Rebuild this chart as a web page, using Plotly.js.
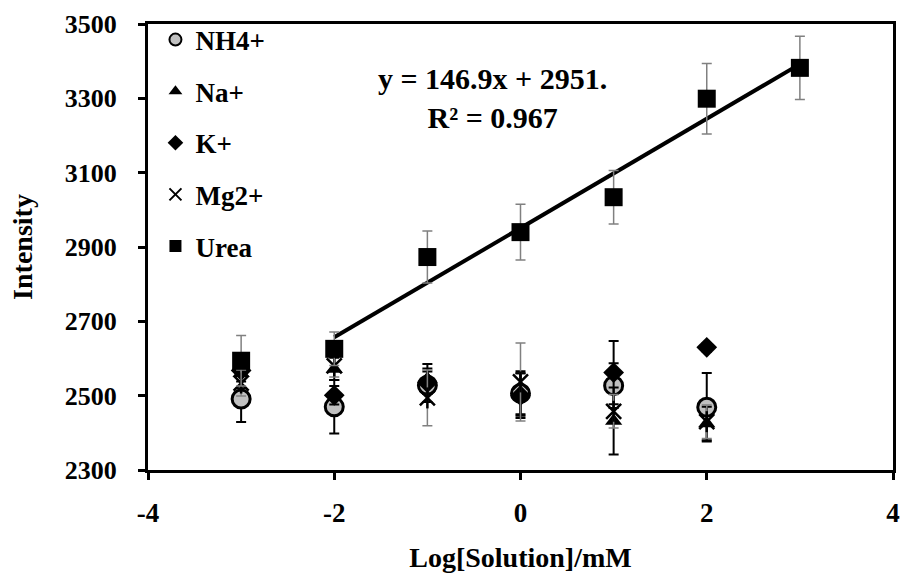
<!DOCTYPE html>
<html>
<head>
<meta charset="utf-8">
<script src="https://cdn.plot.ly/plotly-3.0.1.min.js"></script>
<style>html,body{margin:0;padding:0;background:#fff}#chart{width:902px;height:574px}</style>
</head>
<body>
<div id="chart"></div>
<script>
// ---- data ----
const xIons = [-3, -2, -1, 0, 1, 2];
const xUrea = [-3, -2, -1, 0, 1, 2, 3];

const nh4  = [2491, 2470, 2528, 2506, 2527, 2469];
const nh4Err = [62, 72, 45, 60, 60, 92];

const na   = [2560, 2572, 2545, 2505, 2432, 2425];
const naErr  = [40, 30, 40, 55, 90, 45];

const k    = [2568, 2501, 2535, 2500, 2562, 2630];
const kErr   = [30, 25, 30, 60, 85, 12];

const mg   = [2534, 2580, 2494, 2537, 2458, 2430];
const mgErr  = [35, 30, 75, 105, 45, 45];

const urea = [2594, 2626, 2873, 2940, 3034, 3299, 3382];
const ureaErr = [68, 45, 70, 75, 72, 95, 85];

// linear trendline shown in the chart (y = 146.9x + 2951), over x = -2 .. 3
const trendX = [-2, 3];
const trendY = [2657, 3392];

const legendNames = ['NH4+', 'Na+', 'K+', 'Mg2+', 'Urea'];
const eqText = 'y = 146.9x + 2951.';
const r2Text = 'R² = 0.967';

// ---- chart ----
const FONT = 'Liberation Serif, Times New Roman, serif';
function eb(arr, color, th) {
  return {type: 'data', array: arr, visible: true, color: color, thickness: th, width: 5};
}
const traces = [
  {x: xIons, y: nh4, name: '<b>' + legendNames[0] + '</b>', type: 'scatter', mode: 'markers', legendgroup: 'a',
   marker: {symbol: 'circle', size: 18, color: '#c0c0c0', line: {color: '#000', width: 3}},
   error_y: eb(nh4Err, '#000', 2)},
  {x: xIons, y: na, name: '<b>' + legendNames[1] + '</b>', type: 'scatter', mode: 'markers', legendgroup: 'b',
   marker: {symbol: 'triangle-up', size: 15, color: '#000'},
   error_y: eb(naErr, '#000', 2)},
  {x: xIons, y: k, name: '<b>' + legendNames[2] + '</b>', type: 'scatter', mode: 'markers', legendgroup: 'c',
   marker: {symbol: 'diamond', size: 16, color: '#000'},
   error_y: eb(kErr, '#000', 2)},
  {x: xIons, y: mg, name: '<b>' + legendNames[3] + '</b>', type: 'scatter', mode: 'markers', legendgroup: 'd',
   marker: {symbol: 'x-thin-open', size: 15, color: '#000', line: {color: '#000', width: 2.5}},
   error_y: eb(mgErr, '#808080', 1.5)},
  {x: xIons, y: mg, name: 'mgv', type: 'scatter', mode: 'markers', legendgroup: 'd', showlegend: false,
   marker: {symbol: 'line-ns-open', size: 15, color: '#000', line: {color: '#000', width: 2.5}}},
  {x: trendX, y: trendY, type: 'scatter', mode: 'lines', showlegend: false,
   line: {color: '#000', width: 4}},
  {x: xUrea, y: urea, name: '<b>' + legendNames[4] + '</b>', type: 'scatter', mode: 'markers', legendgroup: 'e',
   marker: {symbol: 'square', size: 18, color: '#000'},
   error_y: eb(ureaErr, '#808080', 1.5)}
];

const layout = {
  width: 902, height: 574,
  margin: {l: 148, r: 9, t: 24, b: 104},
  paper_bgcolor: '#fff', plot_bgcolor: '#fff',
  font: {family: FONT, color: '#000', size: 26},
  showlegend: true,
  legend: {x: 0.01, y: 1.019, xanchor: 'left', yanchor: 'top', bgcolor: 'rgba(0,0,0,0)',
           font: {family: FONT, size: 27, color: '#000'}, traceorder: 'grouped', tracegroupgap: 13.5,
           itemsizing: 'constant', itemwidth: 30},
  xaxis: {range: [-4, 4], tickvals: [-4, -2, 0, 2, 4], ticktext: ['-4', '-2', '0', '2', '4'],
          showgrid: false, zeroline: false, showline: true, linewidth: 3, linecolor: '#000', mirror: true,
          ticks: 'outside', ticklen: 7, tickwidth: 3, tickcolor: '#000', ticklabelstandoff: 10,
          tickfont: {family: FONT, size: 27, weight: 700},
          title: {text: '<b>Log[Solution]/mM</b>', font: {family: FONT, size: 28}, standoff: 20}},
  yaxis: {range: [2300, 3500], tickvals: [2300, 2500, 2700, 2900, 3100, 3300, 3500],
          showgrid: false, zeroline: false, showline: true, linewidth: 3, linecolor: '#000', mirror: true,
          ticks: 'outside', ticklen: 7, tickwidth: 3, tickcolor: '#000', ticklabelstandoff: 16,
          tickfont: {family: FONT, size: 26, weight: 700},
          title: {text: '<b>Intensity</b>', font: {family: FONT, size: 28}, standoff: 24}},
  annotations: [
    {x: -0.3, y: 3302, xref: 'x', yref: 'y', text: '<b>' + eqText + '<br>' + r2Text + '</b>', showarrow: false,
     align: 'center', font: {family: FONT, size: 30, color: '#000'}}
  ]
};

Plotly.newPlot('chart', traces, layout, {displayModeBar: false, staticPlot: true});
</script>
</body>
</html>
